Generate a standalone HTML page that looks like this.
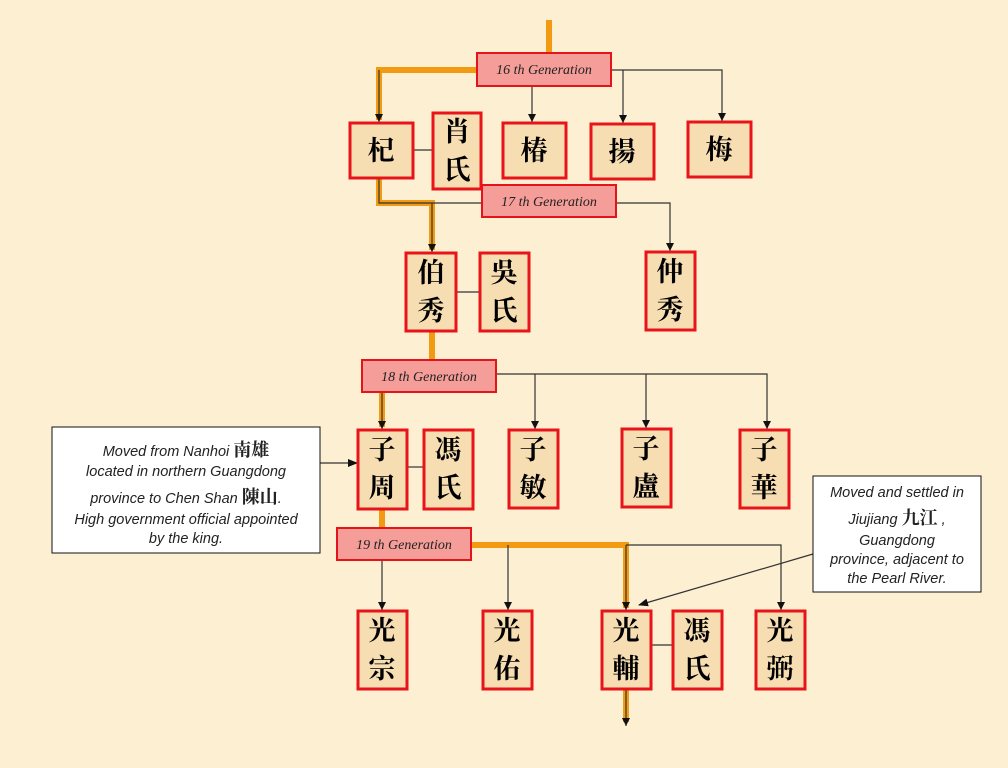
<!DOCTYPE html>
<html><head><meta charset="utf-8"><style>
html,body{margin:0;padding:0;background:#fcefd2;}
svg{display:block}
.n{fill:#f7ddb2;stroke:#e8141a;stroke-width:3}
.g{fill:#f59d98;stroke:#e4141a;stroke-width:2}
.gt{font-family:"Liberation Serif",serif;font-style:italic;font-size:14px;fill:#222;text-anchor:middle}
.c{font-family:"Liberation Serif","Noto Serif CJK SC","Noto Serif CJK TC",serif;font-size:27px;font-weight:bold;fill:#000;text-anchor:middle}
.t{stroke:#333;stroke-width:1.2;fill:none}
.o{stroke:#f29a12;stroke-width:6;fill:none}
.ct{font-family:"Liberation Sans","Noto Serif CJK SC",sans-serif;font-style:italic;font-size:14.5px;fill:#222;text-anchor:middle}
</style></head><body>
<svg width="1008" height="768" viewBox="0 0 1008 768" xmlns="http://www.w3.org/2000/svg">
<defs><marker id="a" markerWidth="9" markerHeight="9" refX="8" refY="4" orient="auto" markerUnits="userSpaceOnUse"><path d="M0,0 L8,4 L0,8z" fill="#111"/></marker>
<marker id="b" markerWidth="10" markerHeight="10" refX="9" refY="5" orient="auto" markerUnits="userSpaceOnUse"><path d="M0,1 L10,5 L0,9z" fill="#111"/></marker></defs>
<rect width="1008" height="768" fill="#fcefd2"/>
<polyline class="o" points="549,20 549,53"/>
<polyline class="o" points="477,70 379,70 379,120"/>
<polyline class="o" points="379,178 379,203 432,203 432,250"/>
<polyline class="o" points="432,331 432,360"/>
<polyline class="o" points="382,392 382,427"/>
<polyline class="o" points="382,509 382,528"/>
<polyline class="o" points="471,545 626,545 626,608"/>
<polyline class="o" points="626,689 626,722"/>
<polyline class="t" points="379,70 379,122" marker-end="url(#a)"/>
<polyline class="t" points="611,70 722,70 722,121" marker-end="url(#a)"/>
<polyline class="t" points="623,70 623,123" marker-end="url(#a)"/>
<polyline class="t" points="532,86 532,122" marker-end="url(#a)"/>
<polyline class="t" points="379,178 379,203 482,203"/>
<polyline class="t" points="432,203 432,252" marker-end="url(#a)"/>
<polyline class="t" points="616,203 670,203 670,251" marker-end="url(#a)"/>
<polyline class="t" points="496,374 767,374 767,429" marker-end="url(#a)"/>
<polyline class="t" points="535,374 535,429" marker-end="url(#a)"/>
<polyline class="t" points="646,374 646,428" marker-end="url(#a)"/>
<polyline class="t" points="382,392 382,429" marker-end="url(#a)"/>
<polyline class="t" points="382,560 382,610" marker-end="url(#a)"/>
<polyline class="t" points="508,545 508,610" marker-end="url(#a)"/>
<polyline class="t" points="626,545 626,610" marker-end="url(#a)"/>
<polyline class="t" points="626,545 781,545 781,610" marker-end="url(#a)"/>
<polyline class="t" points="626,689 626,726" marker-end="url(#a)"/>
<line class="t" x1="413" y1="150" x2="432" y2="150"/>
<line class="t" x1="456" y1="292" x2="479" y2="292"/>
<line class="t" x1="407" y1="467" x2="423" y2="467"/>
<line class="t" x1="651" y1="645" x2="672" y2="645"/>
<line class="t" x1="320" y1="463" x2="357" y2="463" marker-end="url(#b)"/>
<line class="t" x1="813" y1="554" x2="639" y2="605" marker-end="url(#b)"/>
<rect class="g" x="477" y="53" width="134" height="33"/><text class="gt" x="544" y="74">16 th Generation</text>
<rect class="g" x="482" y="185" width="134" height="32"/><text class="gt" x="549" y="206">17 th Generation</text>
<rect class="g" x="362" y="360" width="134" height="32"/><text class="gt" x="429" y="381">18 th Generation</text>
<rect class="g" x="337" y="528" width="134" height="32"/><text class="gt" x="404" y="549">19 th Generation</text>
<rect class="n" x="350" y="123" width="63" height="55"/><text class="c" x="381" y="160">杞</text>
<rect class="n" x="433" y="113" width="48" height="76"/><text class="c" x="457" y="141">肖</text><text class="c" x="457" y="179">氏</text>
<rect class="n" x="503" y="123" width="63" height="55"/><text class="c" x="534" y="160">椿</text>
<rect class="n" x="591" y="124" width="63" height="55"/><text class="c" x="622" y="161">揚</text>
<rect class="n" x="688" y="122" width="63" height="55"/><text class="c" x="719" y="159">梅</text>
<rect class="n" x="406" y="253" width="50" height="78"/><text class="c" x="431" y="282">伯</text><text class="c" x="431" y="320">秀</text>
<rect class="n" x="480" y="253" width="49" height="78"/><text class="c" x="504" y="282">吳</text><text class="c" x="504" y="320">氏</text>
<rect class="n" x="646" y="252" width="49" height="78"/><text class="c" x="670" y="281">仲</text><text class="c" x="670" y="319">秀</text>
<rect class="n" x="358" y="430" width="49" height="79"/><text class="c" x="382" y="459">子</text><text class="c" x="382" y="497">周</text>
<rect class="n" x="424" y="430" width="49" height="79"/><text class="c" x="448" y="459">馮</text><text class="c" x="448" y="497">氏</text>
<rect class="n" x="509" y="430" width="49" height="78"/><text class="c" x="533" y="459">子</text><text class="c" x="533" y="497">敏</text>
<rect class="n" x="622" y="429" width="49" height="78"/><text class="c" x="646" y="458">子</text><text class="c" x="646" y="496">盧</text>
<rect class="n" x="740" y="430" width="49" height="78"/><text class="c" x="764" y="459">子</text><text class="c" x="764" y="497">華</text>
<rect class="n" x="358" y="611" width="49" height="78"/><text class="c" x="382" y="640">光</text><text class="c" x="382" y="678">宗</text>
<rect class="n" x="483" y="611" width="49" height="78"/><text class="c" x="507" y="640">光</text><text class="c" x="507" y="678">佑</text>
<rect class="n" x="602" y="611" width="49" height="78"/><text class="c" x="626" y="640">光</text><text class="c" x="626" y="678">輔</text>
<rect class="n" x="673" y="611" width="49" height="78"/><text class="c" x="697" y="640">馮</text><text class="c" x="697" y="678">氏</text>
<rect class="n" x="756" y="611" width="49" height="78"/><text class="c" x="780" y="640">光</text><text class="c" x="780" y="678">弼</text>
<rect x="52" y="427" width="268" height="126" fill="#fff" stroke="#111" stroke-width="1"/>
<text class="ct" x="186" y="456">Moved from Nanhoi <tspan font-style="normal" font-size="18" font-weight="bold">南雄</tspan></text>
<text class="ct" x="186" y="476">located in northern Guangdong</text>
<text class="ct" x="186" y="503">province to Chen Shan <tspan font-style="normal" font-size="18" font-weight="bold">陳山</tspan>.</text>
<text class="ct" x="186" y="524">High government official appointed</text>
<text class="ct" x="186" y="543">by the king.</text>
<rect x="813" y="476" width="168" height="116" fill="#fff" stroke="#111" stroke-width="1"/>
<text class="ct" x="897" y="497">Moved and settled in</text>
<text class="ct" x="897" y="524">Jiujiang <tspan font-style="normal" font-size="18" font-weight="bold">九江</tspan> ,</text>
<text class="ct" x="897" y="545">Guangdong</text>
<text class="ct" x="897" y="564">province, adjacent to</text>
<text class="ct" x="897" y="583">the Pearl River.</text>
</svg>
</body></html>
